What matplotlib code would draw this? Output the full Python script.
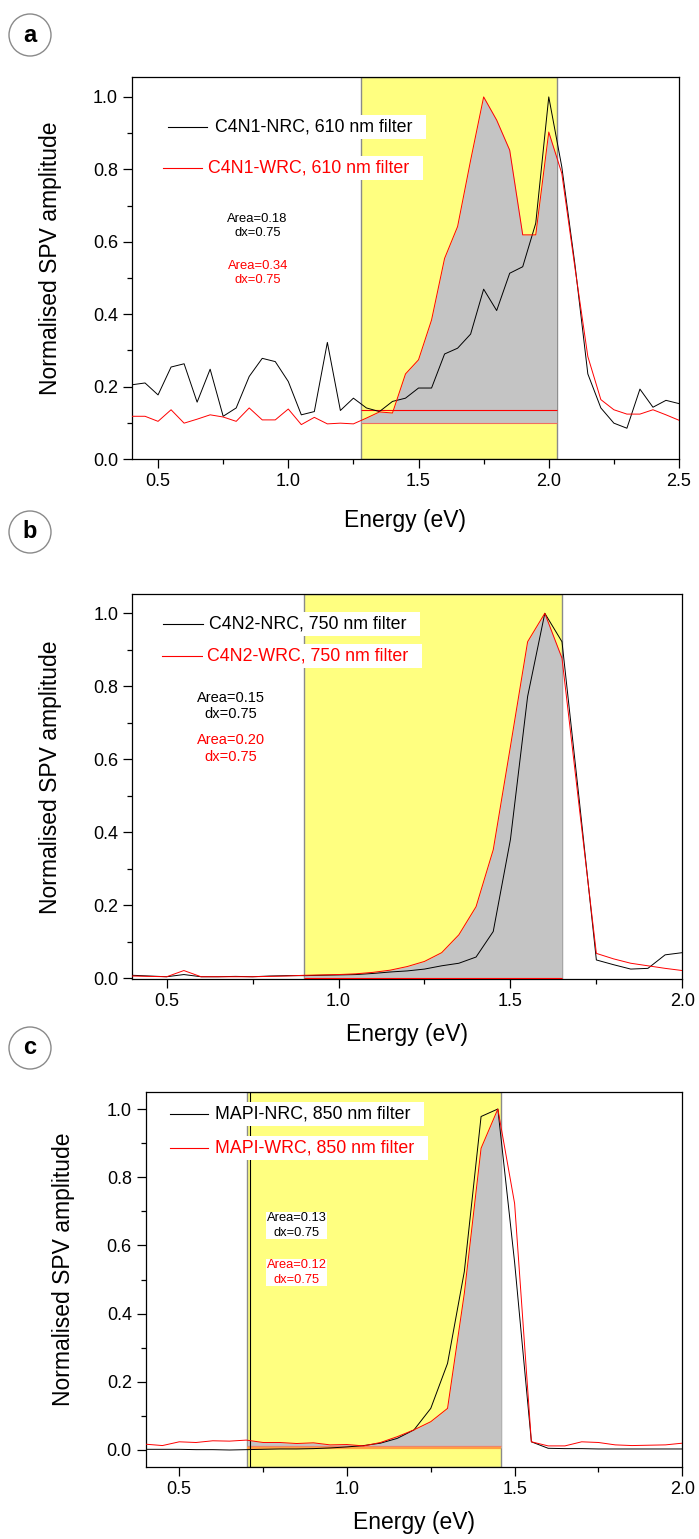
import numpy as np
import matplotlib
matplotlib.use('Agg')
import matplotlib.pyplot as plt
from matplotlib.patches import Ellipse
from matplotlib.ticker import MultipleLocator, FormatStrFormatter

plt.rcParams['font.family'] = ['Liberation Sans', 'DejaVu Sans']

W, H = 699, 1539

# ---- panel a: C4N1, 610 nm filter ----
energy_a = [0.40, 0.45, 0.50, 0.55, 0.60, 0.65, 0.70, 0.75, 0.80, 0.85, 0.90,
            0.95, 1.00, 1.05, 1.10, 1.15, 1.20, 1.25, 1.30, 1.35, 1.40, 1.45,
            1.50, 1.55, 1.60, 1.65, 1.70, 1.75, 1.80, 1.85, 1.90, 1.95, 2.00,
            2.05, 2.10, 2.15, 2.20, 2.25, 2.30, 2.35, 2.40, 2.45, 2.50]
nrc_a = [0.205, 0.210, 0.177, 0.254, 0.263, 0.157, 0.248, 0.118, 0.141, 0.228,
         0.278, 0.269, 0.214, 0.122, 0.131, 0.322, 0.134, 0.168, 0.141, 0.131,
         0.159, 0.168, 0.196, 0.196, 0.290, 0.306, 0.345, 0.469, 0.410, 0.513,
         0.531, 0.651, 1.000, 0.807, 0.540, 0.235, 0.141, 0.099, 0.085, 0.193,
         0.143, 0.162, 0.153]
wrc_a = [0.118, 0.118, 0.104, 0.136, 0.099, 0.110, 0.122, 0.116, 0.104, 0.141,
         0.108, 0.108, 0.138, 0.095, 0.115, 0.097, 0.099, 0.097, 0.113, 0.130,
         0.127, 0.235, 0.274, 0.384, 0.554, 0.642, 0.825, 1.000, 0.936, 0.853,
         0.619, 0.619, 0.903, 0.789, 0.531, 0.283, 0.164, 0.136, 0.124, 0.124,
         0.136, 0.122, 0.107]

# ---- panel b: C4N2, 750 nm filter ----
energy_b = [0.40, 0.45, 0.50, 0.55, 0.60, 0.65, 0.70, 0.75, 0.80, 0.85, 0.90,
            0.95, 1.00, 1.05, 1.10, 1.15, 1.20, 1.25, 1.30, 1.35, 1.40, 1.45,
            1.50, 1.55, 1.60, 1.65, 1.70, 1.75, 1.80, 1.85, 1.90, 1.95, 2.00]
nrc_b = [0.008, 0.006, 0.004, 0.010, 0.004, 0.004, 0.005, 0.004, 0.006, 0.007,
         0.007, 0.008, 0.009, 0.010, 0.013, 0.017, 0.020, 0.025, 0.034, 0.041,
         0.058, 0.128, 0.380, 0.772, 1.000, 0.922, 0.490, 0.050, 0.037, 0.025,
         0.027, 0.064, 0.070]
wrc_b = [0.006, 0.005, 0.004, 0.021, 0.004, 0.004, 0.004, 0.004, 0.005, 0.006,
         0.008, 0.009, 0.010, 0.012, 0.016, 0.022, 0.032, 0.046, 0.070, 0.119,
         0.196, 0.352, 0.635, 0.922, 1.000, 0.877, 0.470, 0.068, 0.053, 0.041,
         0.034, 0.027, 0.021]

# ---- panel c: MAPI, 850 nm filter ----
energy_c = energy_b
nrc_c = [0.002, 0.002, 0.002, 0.001, 0.001, 0.000, 0.001, 0.002, 0.003, 0.003,
         0.004, 0.006, 0.009, 0.013, 0.020, 0.034, 0.059, 0.122, 0.254, 0.523,
         0.978, 1.000, 0.550, 0.024, 0.005, 0.004, 0.004, 0.003, 0.003, 0.003,
         0.003, 0.003, 0.003]
wrc_c = [0.017, 0.013, 0.024, 0.022, 0.027, 0.026, 0.029, 0.022, 0.022, 0.019,
         0.021, 0.015, 0.016, 0.012, 0.022, 0.039, 0.059, 0.083, 0.122, 0.459,
         0.885, 1.000, 0.723, 0.024, 0.012, 0.012, 0.024, 0.022, 0.015, 0.013,
         0.014, 0.015, 0.020]

labels_a = ['C4N1-NRC, 610 nm filter', 'C4N1-WRC, 610 nm filter']
labels_b = ['C4N2-NRC, 750 nm filter', 'C4N2-WRC, 750 nm filter']
labels_c = ['MAPI-NRC, 850 nm filter', 'MAPI-WRC, 850 nm filter']
area_a = ['Area=0.18\ndx=0.75', 'Area=0.34\ndx=0.75']
area_b = ['Area=0.15\ndx=0.75', 'Area=0.20\ndx=0.75']
area_c = ['Area=0.13\ndx=0.75', 'Area=0.12\ndx=0.75']

fig = plt.figure(figsize=(W / 100, H / 100), dpi=100)


def fx(x):
    return x / W


def fy(y):
    return 1 - y / H


def panel(l, t, r, b, x, nrc, wrc, xlim, ylim, win, fill_base, base_lines,
          labels, leg, areas, area_pos, area_size, area_box, xl_y, yl_x, tag, tag_y):
    ax = fig.add_axes([fx(l), fy(b), (r - l) / W, (b - t) / H])
    ax.set_xlim(*xlim)
    ax.set_ylim(*ylim)

    ax.axvspan(win[0], win[1], facecolor='#ffff80', edgecolor='#8a8a8a', lw=1.0, zorder=1)
    xs = [win[0]] + [v for v in x if win[0] < v < win[1]] + [win[1]]
    ys = np.interp(xs, x, wrc)
    ax.fill_between(xs, fill_base, ys, color='#c4c4c4', lw=0, zorder=2)
    for yv, c, w in base_lines:
        ax.hlines(yv, win[0], win[1], color=c, lw=w, zorder=3)

    ax.plot(x, nrc, color='black', lw=0.7, zorder=4)
    ax.plot(x, wrc, color='red', lw=0.7, zorder=4)

    # legend-like labels with white boxes
    for (x0, x1, yy, tx), lab, c in zip(leg, labels, ['black', 'red']):
        ax.plot([fx(x0), fx(x1)], [fy(yy), fy(yy)], color=c, lw=0.8,
                transform=fig.transFigure, zorder=5)
        ax.text(fx(tx), fy(yy), lab + '  ', color=c, fontsize=12.8, ha='left', va='center',
                transform=fig.transFigure, zorder=5,
                bbox=dict(facecolor='white', edgecolor='none', pad=2.5))

    for txt, (ax_x, ax_y), c in zip(areas, area_pos, ['black', 'red']):
        kw = dict(bbox=dict(facecolor='white', edgecolor='none', pad=0.5)) if area_box else {}
        ax.text(fx(ax_x), fy(ax_y), txt, color=c, fontsize=area_size, ha='center',
                va='center', linespacing=1.25, transform=fig.transFigure, zorder=5, **kw)

    ax.xaxis.set_major_locator(MultipleLocator(0.5))
    ax.xaxis.set_minor_locator(MultipleLocator(0.25))
    ax.yaxis.set_major_locator(MultipleLocator(0.2))
    ax.yaxis.set_minor_locator(MultipleLocator(0.1))
    ax.xaxis.set_major_formatter(FormatStrFormatter('%.1f'))
    ax.yaxis.set_major_formatter(FormatStrFormatter('%.1f'))
    ax.tick_params(which='both', direction='out', top=False, right=False,
                   width=0.9, labelsize=13, pad=3.5)
    ax.tick_params(which='major', length=6.5)
    ax.tick_params(which='minor', length=3.5)
    for s in ax.spines.values():
        s.set_linewidth(0.9)

    fig.text(fx((l + r) / 2), fy(xl_y), 'Energy (eV)', fontsize=16.5, ha='center', va='center')
    fig.text(fx(yl_x), fy((t + b) / 2 - 10), 'Normalised SPV amplitude', fontsize=16.5,
             rotation=90, ha='center', va='center')

    fig.add_artist(Ellipse((fx(30), fy(tag_y)), 42 / W, 42 / H, transform=fig.transFigure,
                           facecolor='white', edgecolor='#8a8a8a', lw=1.0))
    fig.text(fx(30), fy(tag_y), tag, fontsize=17, fontweight='bold', ha='center', va='center')
    return ax


panel(132, 77, 679, 459, energy_a, nrc_a, wrc_a, (0.4, 2.5), (0, 1.055), (1.28, 2.03),
      0.099, [(0.134, 'red', 0.8), (0.099, '#f07060', 0.8)], labels_a,
      [(168, 207, 126.7, 215), (163, 202, 168.3, 208)], area_a,
      [(257.7, 226), (257.7, 273)], 9.4, False, 520, 51, 'a', 35)

axb = panel(132.3, 594.3, 682.3, 979.3, energy_b, nrc_b, wrc_b, (0.4, 2.0), (-0.003, 1.052),
            (0.90, 1.65), 0.0, [(0.0, 'red', 0.8)], labels_b,
            [(163, 203, 624, 209), (162, 202, 655.7, 207)], area_b,
            [(230.7, 706), (230.7, 748.5)], 10.5, False, 1034, 51, 'b', 532)

axc = panel(145.7, 1092.3, 682.3, 1466.7, energy_c, nrc_c, wrc_c, (0.4, 2.0), (-0.049, 1.049),
            (0.703, 1.46), 0.006, [(0.013, '#f08070', 0.9), (0.006, '#ffa040', 1.6)], labels_c,
            [(170, 208, 1114.3, 215), (170, 208, 1148.3, 215)], area_c,
            [(296.7, 1225.5), (296.7, 1272.5)], 9.3, True, 1522, 64, 'c', 1048)
axc.axvline(0.711, color='black', lw=0.8, zorder=3)

fig.savefig('out.png', dpi=100)
